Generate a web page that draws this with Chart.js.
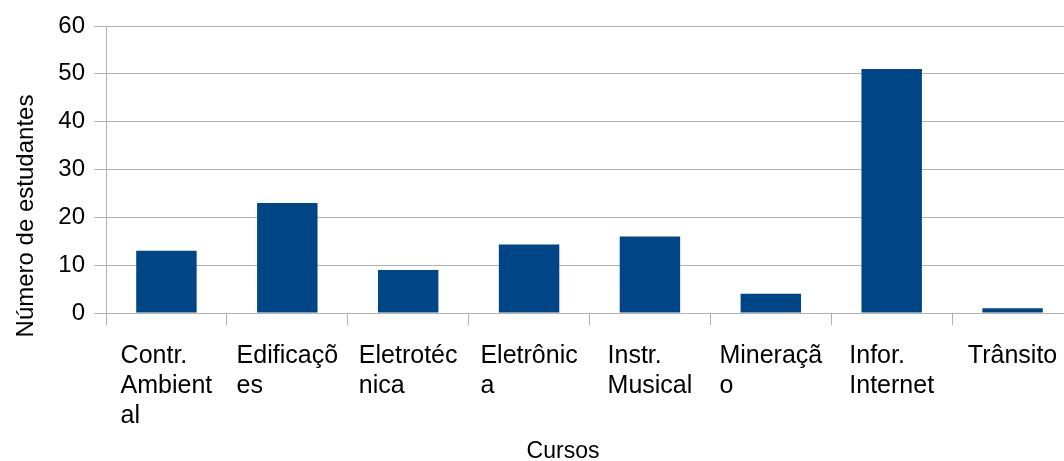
<!DOCTYPE html>
<html>
<head>
<meta charset="utf-8">
<script src="https://cdn.jsdelivr.net/npm/chart.js@4/dist/chart.umd.min.js"></script>
<style>
  html, body { margin: 0; padding: 0; background: #fff; overflow: hidden; width: 1064px; height: 461px; }
  #wrap { width: 1073px; height: 461px; position: relative; }
</style>
</head>
<body>
<div id="wrap"><canvas id="c"></canvas></div>
<script>
const categories = [
  ["Contr.", "Ambient", "al"],
  ["Edificaçõ", "es"],
  ["Eletrotéc", "nica"],
  ["Eletrônic", "a"],
  ["Instr.", "Musical"],
  ["Mineraçã", "o"],
  ["Infor.", "Internet"],
  ["Trânsito"]
];
const students = [13, 23, 9, 14.3, 16, 4, 51, 1];
const yTicks = [0, 10, 20, 30, 40, 50, 60];
const xTitle = "Cursos";
const yTitle = "Número de estudantes";

const FONT = '"Liberation Sans", Arial, sans-serif';
const GRID = '#b3b3b3';

const textPlugin = {
  id: 'customText',
  afterDraw(chart) {
    const ctx = chart.ctx;
    const x = chart.scales.x;
    ctx.save();
    ctx.fillStyle = '#000';
    ctx.textBaseline = 'alphabetic';
    ctx.textAlign = 'left';
    ctx.font = '25px ' + FONT;
    const lineH = 30;
    const base0 = x.top + 50;
    categories.forEach((lines, i) => {
      const cx = x.getPixelForValue(i);
      const w = Math.max(...lines.map(l => ctx.measureText(l).width));
      const left = cx - w / 2;
      lines.forEach((l, j) => ctx.fillText(l, left, base0 + j * lineH));
    });
    // x title
    ctx.font = '23px ' + FONT;
    ctx.textAlign = 'center';
    ctx.fillText(xTitle, 563, 458);
    // y title
    ctx.translate(33, 216);
    ctx.rotate(-Math.PI / 2);
    ctx.textAlign = 'center';
    ctx.font = '24px ' + FONT;
    ctx.fillText(yTitle, 0, 0);
    ctx.restore();
  }
};

new Chart(document.getElementById('c'), {
  type: 'bar',
  data: {
    labels: categories.map(c => c.join(' ')),
    datasets: [{
      data: students,
      backgroundColor: '#004586',
      borderWidth: 0,
      barPercentage: 0.5,
      categoryPercentage: 1.0
    }]
  },
  options: {
    responsive: true,
    maintainAspectRatio: false,
    animation: false,
    devicePixelRatio: 1,
    layout: { padding: { top: 26, right: 0, left: 0, bottom: 0 } },
    plugins: {
      legend: { display: false },
      tooltip: { enabled: false },
      title: { display: false }
    },
    scales: {
      x: {
        offset: true,
        grid: {
          offset: true,
          drawOnChartArea: false,
          drawTicks: true,
          tickLength: 12,
          color: GRID,
          lineWidth: 1
        },
        border: { display: true, color: GRID, width: 1 },
        ticks: { color: 'rgba(0,0,0,0)', font: { size: 12 }, maxRotation: 0, autoSkip: false },
        afterFit(scale) { scale.height = 148; }
      },
      y: {
        min: 0,
        max: 60,
        afterBuildTicks(scale) { scale.ticks = yTicks.map(v => ({ value: v })); },
        grid: {
          drawOnChartArea: true,
          drawTicks: true,
          tickLength: 12,
          color: GRID,
          lineWidth: 1
        },
        border: { display: true, color: GRID, width: 1 },
        ticks: {
          color: '#000',
          padding: 9,
          font: { family: FONT, size: 24 }
        },
        afterFit(scale) { scale.width = 106; }
      }
    }
  },
  plugins: [textPlugin]
});
</script>
</body>
</html>
